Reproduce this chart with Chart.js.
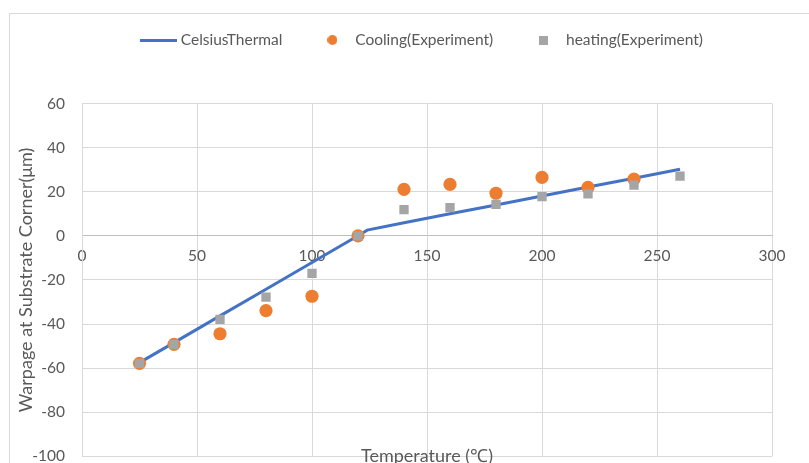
<!DOCTYPE html>
<html>
<head>
<meta charset="utf-8">
<script src="https://cdn.jsdelivr.net/npm/chart.js@4.4.1/dist/chart.umd.min.js"></script>
<style>
  html, body { margin: 0; padding: 0; background: #fff; }
  #wrap { position: relative; width: 809px; height: 463px; overflow: hidden; }
  #frame { position: absolute; left: 9px; top: 13px; width: 900px; height: 500px;
           border-left: 1px solid #d9d9d9; border-top: 1px solid #d9d9d9; }
  canvas { position: absolute; left: 0; top: 0; }
</style>
</head>
<body>
<div id="wrap"><div id="frame"></div><canvas id="myChart" width="809" height="463"></canvas></div>
<script>
const lineTemps = [25, 40, 60, 80, 100, 120, 124, 140, 160, 180, 200, 220, 240, 260];
const lineWarpage = [-57.5, -48.4, -36.3, -24.2, -12.1, 0, 2.6, 5.9, 10, 14, 18.1, 22.1, 26.1, 30.2];

const coolTemps = [25, 40, 60, 80, 100, 120, 140, 160, 180, 200, 220, 240];
const coolWarpage = [-57.8, -49.2, -44.4, -33.9, -27.4, 0, 21.1, 23.3, 19.3, 26.5, 22.0, 25.7];

const heatTemps = [25, 40, 60, 80, 100, 120, 140, 160, 180, 200, 220, 240, 260];
const heatWarpage = [-57.8, -49.2, -37.9, -27.8, -17.0, 0, 11.9, 12.8, 14.3, 17.8, 19.0, 23.0, 27.1];

const seriesNames = ['CelsiusThermal', 'Cooling(Experiment)', 'heating(Experiment)'];

const BLUE = '#4472C4', ORANGE = '#ED7D31', GRAY = '#A5A5A5', TEXT = '#595959';
const FONT = 'Lato';

const toPoints = (xs, ys) => xs.map((x, i) => ({ x: x, y: ys[i] }));

// little canvases used as legend markers
function marker(w, h, draw) {
  const c = document.createElement('canvas');
  c.width = w; c.height = h;
  draw(c.getContext('2d'));
  return c;
}
const lineMark = marker(37, 3, g => { g.fillStyle = BLUE; g.fillRect(0, 0, 37, 3); });
const dotMark = marker(10, 10, g => { g.fillStyle = ORANGE; g.beginPath(); g.arc(5, 5, 5, 0, Math.PI * 2); g.fill(); });
const boxMark = marker(9, 9, g => { g.fillStyle = GRAY; g.fillRect(0, 0, 9, 9); });
const legendMarks = [lineMark, dotMark, boxMark];

// move legend up into the frame and to its spot
const legendShift = {
  id: 'legendShift',
  afterLayout(chart) {
    const lg = chart.legend;
    const dx = 143 - (lg.left + 35);
    const dy = 40 - (lg.top + 35 + 7.75);
    lg.left += dx; lg.right += dx;
    lg.top += dy; lg.bottom += dy;
  }
};

// x axis title sits at the bottom edge, the x axis itself crosses at y = 0
const xTitle = {
  id: 'xTitle',
  afterDraw(chart) {
    const { ctx, chartArea } = chart;
    ctx.save();
    ctx.font = '18px ' + FONT;
    ctx.fillStyle = TEXT;
    ctx.textAlign = 'center';
    ctx.textBaseline = 'middle';
    ctx.fillText('Temperature (℃)', (chartArea.left + chartArea.right) / 2, 456);
    ctx.restore();
  }
};

new Chart(document.getElementById('myChart'), {
  type: 'scatter',
  data: {
    datasets: [
      {
        label: seriesNames[0],
        data: toPoints(lineTemps, lineWarpage),
        showLine: true,
        borderColor: BLUE,
        borderWidth: 3,
        pointRadius: 0,
        tension: 0,
        order: 2
      },
      {
        label: seriesNames[1],
        data: toPoints(coolTemps, coolWarpage),
        backgroundColor: ORANGE,
        borderWidth: 0,
        pointRadius: 6.6,
        order: 1
      },
      {
        label: seriesNames[2],
        data: toPoints(heatTemps, heatWarpage),
        backgroundColor: GRAY,
        borderWidth: 0,
        pointStyle: 'rect',
        pointRadius: 6.6,
        order: 0
      }
    ]
  },
  options: {
    responsive: false,
    animation: false,
    devicePixelRatio: 1,
    layout: { padding: { top: 43, right: 37, bottom: 5, left: 0 } },
    plugins: {
      tooltip: { enabled: false },
      legend: {
        position: 'top',
        align: 'start',
        labels: {
          usePointStyle: true,
          pointStyleWidth: 30,
          padding: 35,
          color: TEXT,
          font: { family: FONT, size: 15.5 },
          generateLabels(chart) {
            return chart.data.datasets.map((ds, i) => ({
              text: ds.label,
              pointStyle: legendMarks[i],
              fillStyle: 'transparent',
              strokeStyle: 'transparent',
              lineWidth: 0,
              fontColor: TEXT,
              datasetIndex: i
            }));
          }
        }
      }
    },
    scales: {
      x: {
        type: 'linear',
        position: { y: 0 },
        min: 0,
        max: 300,
        ticks: { stepSize: 50, padding: 11, color: TEXT, font: { family: FONT, size: 15.5 } },
        grid: { color: '#d9d9d9', drawTicks: false },
        border: { color: '#bfbfbf' }
      },
      y: {
        type: 'linear',
        position: 'left',
        min: -100,
        max: 60,
        ticks: { stepSize: 20, padding: 17, color: TEXT, font: { family: FONT, size: 15.5 } },
        grid: { color: '#d9d9d9', drawTicks: false },
        border: { color: '#d9d9d9' },
        title: {
          display: true,
          text: 'Warpage at Substrate Corner(μm)',
          color: TEXT,
          font: { family: FONT, size: 18, weight: 'normal' },
          padding: { top: 15, bottom: 0 }
        },
        afterFit(scale) {
          scale.width = 82;
          scale.paddingBottom = 0;
          scale.paddingTop = 0;
        }
      }
    }
  },
  plugins: [legendShift, xTitle]
});
</script>
</body>
</html>
